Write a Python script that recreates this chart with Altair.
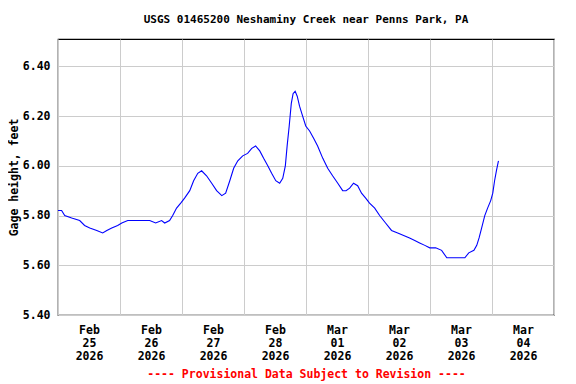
import altair as alt
import pandas as pd

# Hours since 2026-02-25 00:00 (UTC) and gage height readings (feet)
hours = [0, 1.4, 2.6, 5.3, 8.4, 10.3, 12.3, 15, 17.3, 18.9, 20.8, 23.1, 24.7, 27, 31.6,
         35.5, 37.8, 40.1, 41.3, 43.2, 44.4, 45.9, 47.5, 49, 51, 52.5, 54.1, 55.6, 57.5,
         59.5, 61.4, 63.4, 64.9, 66.5, 68, 69.6, 71.5, 73.4, 75, 76.5, 78.1, 79.6, 81.2,
         82.7, 84.3, 85.8, 87, 88, 88.7, 89.5, 90.3, 91, 91.8, 92.6, 93.5, 94.7, 95.9,
         97.4, 99, 100.5, 102.5, 104.4, 106.3, 108.3, 110.2, 111.5, 112.9, 114.4, 116,
         117.5, 119.1, 120.6, 122.6, 124.5, 126.8, 129.1, 131.5, 133.8, 136.1, 138.1,
         140, 142, 143.9, 146.2, 148.5, 150.5, 153.6, 157.5, 159, 161, 162.1, 163, 164,
         165.2, 166.3, 167.5, 168.3, 169, 169.7, 170.5]
gage_ft = [5.82, 5.82, 5.80, 5.79, 5.78, 5.76, 5.75, 5.74, 5.73, 5.74, 5.75, 5.76, 5.77,
           5.78, 5.78, 5.78, 5.77, 5.78, 5.77, 5.78, 5.80, 5.83, 5.85, 5.87, 5.90, 5.94,
           5.97, 5.98, 5.96, 5.93, 5.90, 5.88, 5.89, 5.94, 5.99, 6.02, 6.04, 6.05, 6.07,
           6.08, 6.06, 6.03, 6.00, 5.97, 5.94, 5.93, 5.95, 6.00, 6.08, 6.16, 6.25, 6.29,
           6.30, 6.28, 6.24, 6.20, 6.16, 6.14, 6.11, 6.08, 6.03, 5.99, 5.96, 5.93, 5.90,
           5.90, 5.91, 5.93, 5.92, 5.89, 5.87, 5.85, 5.83, 5.80, 5.77, 5.74, 5.73, 5.72,
           5.71, 5.70, 5.69, 5.68, 5.67, 5.67, 5.66, 5.63, 5.63, 5.63, 5.65, 5.66, 5.68,
           5.71, 5.75, 5.80, 5.83, 5.86, 5.89, 5.94, 5.98, 6.02]
y_ticks = [5.40, 5.60, 5.80, 6.00, 6.20, 6.40]
n_days = 8

start = pd.Timestamp("2026-02-25T00:00:00", tz="UTC")
times = [(start + pd.Timedelta(hours=h)).strftime("%Y-%m-%dT%H:%M:%SZ") for h in hours]
df = pd.DataFrame({"time": times, "gage": gage_ft})

day_ms = [int((start + pd.Timedelta(days=i)).value // 10**6) for i in range(n_days + 1)]

FONT = "DejaVu Sans Mono"

chart = alt.Chart(df).mark_line(color="#0000ff", strokeWidth=1.1, clip=True).encode(
    x=alt.X("time:T",
            scale=alt.Scale(type="utc", domain=[day_ms[0], day_ms[-1]]),
            axis=alt.Axis(values=day_ms, grid=True, ticks=False, domain=False,
                          labelOffset=31, labelPadding=9, labelLineHeight=13,
                          labelBaseline="top", labelFlush=False, labelOverlap=False,
                          labelExpr="utcFormat(datum.value, '%m-%d') == '03-05' ? '' : "
                                    "[utcFormat(datum.value, '%b'), utcFormat(datum.value, '%d'), "
                                    "utcFormat(datum.value, '%Y')]",
                          title="---- Provisional Data Subject to Revision ----",
                          titleColor="#ff0000", titlePadding=7)),
    y=alt.Y("gage:Q",
            scale=alt.Scale(domain=[5.40, 6.51], nice=False, zero=False),
            axis=alt.Axis(values=y_ticks, format=".2f", grid=True, ticks=False, domain=False,
                          labelPadding=8, labelFlush=False,
                          title="Gage height, feet", titlePadding=3)),
).properties(
    width=496,
    height=276,
    background="white",
    title=alt.TitleParams("USGS 01465200 Neshaminy Creek near Penns Park, PA",
                          font=FONT, fontSize=11, fontWeight="bold", anchor="middle",
                          offset=14, color="black"),
    autosize=alt.AutoSizeParams(type="none"),
    padding={"left": 50, "top": 31, "right": 14, "bottom": 70},
).configure_view(
    stroke="black", strokeWidth=1.2
).configure_axis(
    labelFont=FONT, labelFontSize=11.5, labelFontWeight="bold", labelColor="black",
    titleFont=FONT, titleFontSize=11.5, titleFontWeight="bold", titleColor="black",
    gridColor="#cccccc", gridWidth=1, gridOpacity=1
)

chart.save("out.html", embed_options={"renderer": "svg", "actions": False})
